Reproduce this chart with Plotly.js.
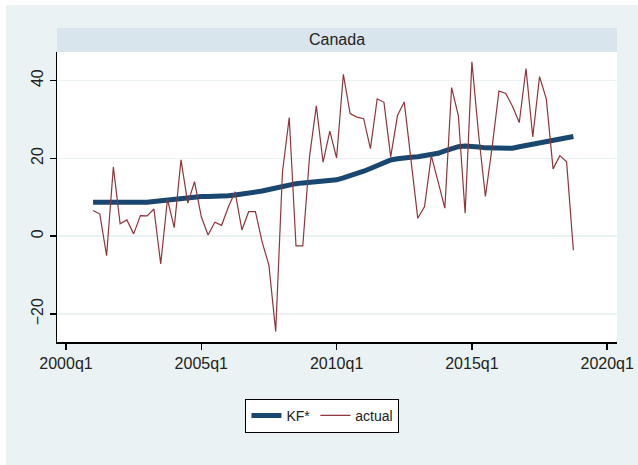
<!DOCTYPE html>
<html>
<head>
<meta charset="utf-8">
<script src="https://cdn.plot.ly/plotly-3.0.1.min.js"></script>
<style>
  html, body { margin: 0; padding: 0; background: #ffffff; width: 638px; height: 465px; overflow: hidden; }
  #chart { position: absolute; left: 6px; top: 5px; width: 632px; height: 460px; }
</style>
</head>
<body>
<div id="chart"></div>
<script>
// ---- data ----
const panelTitle = "Canada";
const startQuarter = "2001q1";
const actual = [
  6.6, 5.7, -5.0, 17.8, 3.2, 4.2, 0.6, 5.3, 5.2, 7.0, -7.1, 9.5, 2.2, 19.6, 8.5, 14.0,
  5.0, 0.3, 3.6, 2.8, 7.5, 11.4, 1.6, 6.3, 6.3, -1.5, -7.5, -24.5, 16.5, 30.5, -2.5, -2.5,
  20.4, 33.5, 19.0, 27.0, 20.1, 41.6, 31.5, 30.6, 30.2, 22.5, 35.3, 34.4, 20.4, 31.0, 34.5, 19.8,
  4.6, 7.6, 20.7, 14.0, 7.2, 38.2, 31.0, 5.9, 44.8, 26.0, 10.2, 23.0, 37.3, 36.7, 33.4, 29.2,
  43.1, 25.5, 41.0, 35.3, 17.3, 20.7, 19.1, -3.6
];
const kfStar = [
  8.7, 8.7, 8.6, 8.5, 8.5, 8.5, 8.5, 8.6, 8.7, 8.9, 9.1, 9.4, 9.7, 9.9, 10.1, 10.2,
  10.2, 10.2, 10.2, 10.3, 10.4, 10.6, 10.8, 10.9, 11.2, 11.6, 12.0, 12.4, 12.9, 13.2, 13.5, 13.7,
  13.8, 13.9, 14.1, 14.3, 14.5, 15.0, 15.5, 16.0, 16.7, 17.4, 18.2, 19.0, 19.6, 19.9, 20.2, 20.3,
  20.4, 20.6, 20.8, 21.3, 21.9, 22.5, 23.0, 23.2, 23.2, 22.9, 22.7, 22.6, 22.5, 22.5, 22.6, 23.0,
  23.3, 23.6, 23.9, 24.2, 24.5, 24.8, 25.1, 25.6
];
const tickLabels = ["2000q1", "2005q1", "2010q1", "2015q1", "2020q1"];
const yTicks = [-20, 0, 20, 40];

// quarter label -> index relative to 2000q1
function qIndex(label) {
  const y = parseInt(label.slice(0, 4), 10);
  const q = parseInt(label.slice(5), 10);
  return (y - 2000) * 4 + (q - 1);
}
const x0 = qIndex(startQuarter);
const xs = actual.map((_, i) => x0 + i);
const tickVals = tickLabels.map(qIndex);

const traces = [
  { x: xs, y: kfStar, type: "scatter", mode: "lines", name: "KF*",
    line: { color: "#1a476f", width: 5 } },
  { x: xs, y: actual, type: "scatter", mode: "lines", name: "actual",
    line: { color: "#90353b", width: 1.2 } }
];

const layout = {
  width: 632, height: 460,
  margin: { l: 51, r: 21, t: 47, b: 123 },
  paper_bgcolor: "#eaf2f3",
  plot_bgcolor: "#ffffff",
  font: { family: "Liberation Sans, Arial, sans-serif", color: "#222222", size: 16 },
  showlegend: true,
  legend: {
    orientation: "h", x: 0.474, xanchor: "center", y: -0.196, yanchor: "top",
    bgcolor: "#ffffff", bordercolor: "#000000", borderwidth: 1,
    font: { size: 14, color: "#222222" }, itemwidth: 30
  },
  xaxis: {
    range: [-1.33, 81.45], tickmode: "array", tickvals: tickVals, ticktext: tickLabels,
    showgrid: false, zeroline: false, showline: true, linecolor: "#000000", linewidth: 1.5,
    ticks: "outside", ticklen: 6, tickwidth: 1.5, tickcolor: "#000000",
    tickfont: { size: 16 }, fixedrange: true
  },
  yaxis: {
    range: [-27.18, 47.33], tickmode: "array", tickvals: yTicks,
    showgrid: true, gridcolor: "#eaf2f3", gridwidth: 1.5, zeroline: false,
    showline: true, linecolor: "#000000", linewidth: 1.5,
    ticks: "outside", ticklen: 6, tickwidth: 1.5, tickcolor: "#000000",
    tickangle: -90, tickfont: { size: 16 }, fixedrange: true
  },
  shapes: [
    { type: "rect", xref: "paper", yref: "paper", x0: 0, x1: 1, y0: 1, y1: 1.084,
      fillcolor: "#d9e5ec", line: { width: 0 }, layer: "below" }
  ],
  annotations: [
    { xref: "paper", yref: "paper", x: 0.5, y: 1.042, text: panelTitle, showarrow: false,
      xanchor: "center", yanchor: "middle", font: { size: 16, color: "#222222" } }
  ]
};

Plotly.newPlot("chart", traces, layout, { displayModeBar: false, staticPlot: true });
</script>
</body>
</html>
